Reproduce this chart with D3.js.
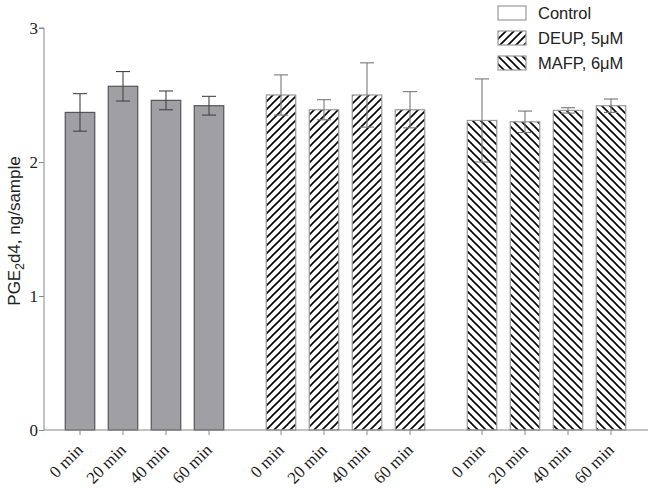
<!DOCTYPE html>
<html><head><meta charset="utf-8">
<script src="https://cdn.jsdelivr.net/npm/d3@7"></script>
<style>body{margin:0;background:#fff}svg{display:block}</style>
</head><body>
<script>
const groups = ["Control", "DEUP, 5\u03bcM", "MAFP, 6\u03bcM"];
const times = ["0 min", "20 min", "40 min", "60 min"];
const controlMeans = [2.37, 2.565, 2.46, 2.42];
const controlErr = [0.14, 0.11, 0.07, 0.07];
const deupMeans = [2.50, 2.39, 2.50, 2.39];
const deupErr = [0.15, 0.075, 0.24, 0.135];
const mafpMeans = [2.31, 2.30, 2.385, 2.42];
const mafpErr = [0.31, 0.08, 0.02, 0.05];
const yTicks = [0, 1, 2, 3];

const W = 655, H = 492;
const svg = d3.select("body").append("svg").attr("width", W).attr("height", H);
const defs = svg.append("defs");
function hatch(id, dir) {
  const p = defs.append("pattern").attr("id", id).attr("patternUnits", "userSpaceOnUse")
    .attr("width", 8).attr("height", 8);
  p.append("rect").attr("width", 8).attr("height", 8).attr("fill", "#fff");
  const d = dir > 0 ? "M-2,2 L2,-2 M0,8 L8,0 M6,10 L10,6" : "M-2,6 L2,10 M0,0 L8,8 M6,-2 L10,2";
  p.append("path").attr("d", d).attr("stroke", "#000").attr("stroke-width", 1.6);
}
hatch("hUp", 1); hatch("hDown", -1);

const fills = ["#a0a0a4", "url(#hUp)", "url(#hDown)"];
const strokes = ["#555", "#999", "#999"];
const errCol = ["#444", "#777", "#777"];
const meanSets = [controlMeans, deupMeans, mafpMeans];
const errSets = [controlErr, deupErr, mafpErr];

const data = [];
meanSets.forEach((ms, g) => ms.forEach((m, i) => data.push({g, i, m, e: errSets[g][i], t: times[i]})));

const gapUnits = 72 / 43 - 1;
const pos = d => d.g * (4 + gapUnits) + d.i;
const x = d3.scaleLinear().domain([0, 1]).range([80, 123]);
const y = d3.scaleLinear().domain([0, 3]).range([430, 28]);
const bw = 29.5;

// axes
const yAxis = svg.append("g").attr("transform", "translate(44,0)")
  .call(d3.axisLeft(y).tickValues(yTicks).tickSize(5).tickFormat(d3.format("d")));
yAxis.select(".domain").attr("stroke", "#888").attr("d", `M-5,${y(3)}H0V${y(0)}`);
yAxis.selectAll(".tick line").attr("stroke", "#888");
yAxis.selectAll(".tick text").attr("font-family", "Liberation Serif, Times New Roman, serif")
  .attr("font-size", 17).attr("fill", "#222").attr("x", -6);

// bars
svg.append("g").selectAll("rect").data(data).join("rect")
  .attr("x", d => x(pos(d)) - bw / 2).attr("width", bw)
  .attr("y", d => y(d.m)).attr("height", d => y(0) - y(d.m))
  .attr("fill", d => fills[d.g]).attr("stroke", d => strokes[d.g]).attr("stroke-width", 1.2);

// error bars
const eb = svg.append("g").selectAll("g").data(data).join("g").attr("stroke", d => errCol[d.g]).attr("stroke-width", 1.1);
eb.append("line").attr("x1", d => x(pos(d))).attr("x2", d => x(pos(d)))
  .attr("y1", d => y(d.m + d.e)).attr("y2", d => y(d.m - d.e));
eb.append("line").attr("x1", d => x(pos(d)) - 7).attr("x2", d => x(pos(d)) + 7)
  .attr("y1", d => y(d.m + d.e)).attr("y2", d => y(d.m + d.e));
eb.append("line").attr("x1", d => x(pos(d)) - 7).attr("x2", d => x(pos(d)) + 7)
  .attr("y1", d => y(d.m - d.e)).attr("y2", d => y(d.m - d.e));

// x axis
const xg = svg.append("g");
xg.append("line").attr("x1", 44).attr("x2", 648).attr("y1", y(0)).attr("y2", y(0)).attr("stroke", "#888").attr("stroke-width", 1.2);
xg.selectAll("line.tk").data(data).join("line").attr("class", "tk")
  .attr("x1", d => x(pos(d))).attr("x2", d => x(pos(d))).attr("y1", y(0)).attr("y2", y(0) + 5).attr("stroke", "#888");
xg.selectAll("text").data(data).join("text")
  .attr("transform", d => `translate(${x(pos(d)) + 4},${y(0) + 21}) rotate(-45)`)
  .attr("text-anchor", "end").attr("font-family", "Liberation Serif, Times New Roman, serif")
  .attr("font-size", 17).attr("fill", "#1a1a1a").text(d => d.t);

// y label
const yl = svg.append("text").attr("transform", "translate(20,231) rotate(-90)")
  .attr("text-anchor", "middle").attr("font-family", "Liberation Sans, Arial, sans-serif")
  .attr("font-size", 17).attr("fill", "#222");
yl.append("tspan").text("PGE");
yl.append("tspan").attr("font-size", 12).attr("dy", 4).text("2");
yl.append("tspan").attr("dy", -4).text("d4, ng/sample");

// legend
const lg = svg.append("g").selectAll("g").data(groups).join("g")
  .attr("transform", (d, i) => `translate(498,${6 + i * 25})`);
lg.append("rect").attr("width", 28).attr("height", 14)
  .attr("fill", (d, i) => i === 0 ? "#fff" : fills[i]).attr("stroke", "#999").attr("stroke-width", 1.2);
lg.append("text").attr("x", 40).attr("y", 13).attr("font-family", "Liberation Sans, Arial, sans-serif")
  .attr("font-size", 16.5).attr("fill", "#222").text(d => d);
</script>
</body></html>
